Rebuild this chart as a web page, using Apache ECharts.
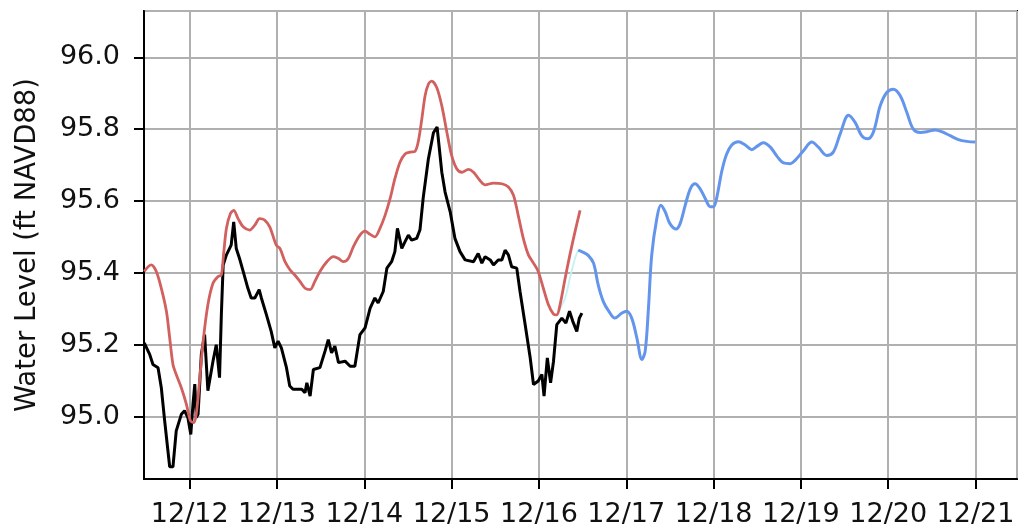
<!DOCTYPE html>
<html>
<head>
<meta charset="utf-8">
<script src="https://cdn.jsdelivr.net/npm/echarts@6/dist/echarts.min.js"></script>
<style>
  html, body { margin: 0; padding: 0; background: #fff; }
  #chart { width: 1018px; height: 528px; }
</style>
</head>
<body>
<div id="chart"></div>
<script>
// Hours are counted from midnight starting 12/12.
const blackHours = [-12.5,-11.0,-10.1,-8.7,-7.8,-6.9,-6.0,-5.5,-4.6,-3.7,-2.3,-1.4,-0.5,0.3,0.9,1.4,1.8,2.3,3.2,4.1,5.0,6.4,7.3,8.2,8.7,9.2,10.1,11.4,12.1,12.8,13.7,14.7,16.0,16.9,17.9,19.1,19.7,21.1,22.4,23.4,24.3,25.2,26.6,27.5,28.4,30.8,31.7,32.2,33.1,34.0,35.8,37.2,38.1,39.0,39.9,40.9,42.7,44.1,45.4,46.8,48.2,49.6,50.9,51.8,53.2,54.2,55.5,56.4,57.1,58.3,59.2,60.1,61.0,62.4,63.3,64.2,65.6,67.0,68.0,69.3,70.2,71.6,72.9,74.3,75.7,78.0,79.3,80.3,81.2,82.6,83.5,84.8,85.8,86.7,87.6,88.5,89.9,90.8,92.2,93.6,94.5,95.8,96.8,97.4,98.3,99.2,100.0,100.9,102.3,103.4,104.4,105.3,106.4,107.1,107.8];
const blackLevels = [95.205,95.173,95.145,95.136,95.08,94.99,94.906,94.86,94.86,94.96,95.006,95.016,94.997,94.95,95.034,95.09,94.997,95.006,95.173,95.228,95.072,95.154,95.2,95.108,95.283,95.422,95.45,95.477,95.542,95.468,95.44,95.404,95.357,95.33,95.33,95.353,95.33,95.283,95.237,95.191,95.21,95.191,95.136,95.085,95.076,95.076,95.066,95.094,95.057,95.131,95.136,95.182,95.214,95.177,95.196,95.15,95.154,95.14,95.14,95.228,95.247,95.302,95.33,95.316,95.348,95.413,95.431,95.459,95.524,95.468,95.487,95.505,95.491,95.496,95.52,95.61,95.717,95.79,95.806,95.68,95.625,95.57,95.496,95.459,95.436,95.431,95.454,95.427,95.445,95.436,95.422,95.436,95.436,95.463,95.45,95.417,95.413,95.348,95.256,95.163,95.089,95.099,95.117,95.057,95.163,95.094,95.154,95.256,95.274,95.26,95.293,95.265,95.237,95.274,95.288];

const redHours = [-12.5,-10.6,-9.2,-7.8,-6.4,-5.5,-4.6,-3.7,-2.3,-0.9,0.2,1.1,1.8,2.7,3.7,5.0,6.4,7.8,8.7,9.3,10.1,11.2,12.1,13.3,14.7,16.5,17.9,19.2,20.6,22.0,23.8,24.8,26.2,27.6,28.9,30.3,31.7,33.1,34.4,35.8,37.7,39.5,40.9,42.2,43.6,45.0,46.8,48.2,49.6,50.9,52.3,53.7,55.1,56.4,57.8,59.2,60.6,61.9,62.8,63.8,64.7,65.6,66.5,67.9,69.3,70.7,72.0,73.4,74.8,76.6,78.0,79.8,81.2,83.5,85.8,87.6,89.0,90.3,91.7,93.1,94.5,95.8,97.2,98.6,100.0,100.9,101.8,103.2,104.5,105.9,107.3];
const redLevels = [95.404,95.422,95.404,95.357,95.293,95.219,95.145,95.117,95.08,95.034,94.988,94.983,95.006,95.099,95.21,95.311,95.371,95.39,95.394,95.45,95.524,95.565,95.574,95.551,95.528,95.519,95.533,95.551,95.547,95.528,95.477,95.468,95.431,95.408,95.394,95.376,95.357,95.353,95.376,95.404,95.431,95.445,95.44,95.431,95.44,95.473,95.505,95.516,95.507,95.5,95.524,95.56,95.607,95.662,95.708,95.731,95.736,95.738,95.764,95.828,95.893,95.925,95.934,95.916,95.865,95.791,95.727,95.69,95.68,95.688,95.68,95.657,95.645,95.65,95.648,95.639,95.616,95.56,95.496,95.45,95.427,95.404,95.357,95.311,95.285,95.283,95.311,95.385,95.45,95.514,95.574];

const linkHours = [100.9,103.2,104.5,105.9,106.8];
const linkLevels = [95.283,95.33,95.385,95.44,95.463];

const blueHours = [106.8,108.2,109.6,111.0,112.3,113.7,115.1,116.9,118.8,120.1,121.5,122.9,124.3,125.2,126.1,127.0,128.4,129.5,130.7,132.0,133.7,134.8,136.2,137.6,138.9,140.3,141.7,143.1,144.0,144.9,146.3,147.6,149.0,150.8,152.7,154.5,155.9,157.7,159.6,161.4,163.2,165.1,166.4,168.7,171.0,172.8,175.1,176.9,178.8,181.1,182.9,184.7,186.3,187.9,189.8,191.6,193.4,195.3,197.1,198.9,200.8,202.6,204.9,206.7,209.0,211.3,213.6,215.9];
const blueLevels = [95.463,95.457,95.448,95.427,95.366,95.32,95.295,95.274,95.288,95.293,95.274,95.219,95.159,95.182,95.302,95.45,95.551,95.588,95.57,95.537,95.522,95.537,95.588,95.634,95.648,95.634,95.607,95.584,95.584,95.611,95.685,95.731,95.756,95.765,95.756,95.743,95.752,95.762,95.75,95.725,95.706,95.704,95.713,95.74,95.764,95.75,95.727,95.736,95.787,95.839,95.819,95.782,95.773,95.791,95.865,95.902,95.911,95.893,95.847,95.8,95.791,95.793,95.798,95.793,95.782,95.771,95.766,95.764];

const yMin = 94.826, yMax = 96.129;
const xStartHours = -12.56, xEndHours = 227.4;

const BASE = new Date(2023, 11, 12, 0, 0, 0).getTime();
const HOUR = 3600 * 1000;
const toPairs = (hours, levels) => hours.map((h, i) => [BASE + h * HOUR, levels[i]]);

const FONT = 'DejaVu Sans';
const TEXT = '#111111';
const chart = echarts.init(document.getElementById('chart'), null, { renderer: 'canvas' });

chart.setOption({
  animation: false,
  backgroundColor: '#ffffff',
  grid: {
    left: 144, right: 1, top: 11, bottom: 46,
    show: true, borderColor: '#000', borderWidth: 2, backgroundColor: 'transparent'
  },
  xAxis: {
    type: 'time',
    min: BASE + xStartHours * HOUR,
    max: BASE + xEndHours * HOUR,
    minInterval: 24 * HOUR,
    maxInterval: 24 * HOUR,
    axisLine: { show: true, lineStyle: { color: '#000', width: 2 } },
    axisTick: { show: true, length: 10, lineStyle: { color: '#000', width: 2 } },
    axisLabel: {
      formatter: '{MM}/{dd}',
      fontFamily: FONT, fontSize: 27, color: TEXT, margin: 22,
      showMinLabel: false, showMaxLabel: false, hideOverlap: false
    },
    splitLine: { show: true, lineStyle: { color: '#b0b0b0', width: 2 } }
  },
  yAxis: {
    type: 'value',
    min: yMin, max: yMax,
    splitNumber: 6,
    minInterval: 0.2, maxInterval: 0.2,
    name: 'Water Level (ft NAVD88)',
    nameLocation: 'middle',
    nameGap: 102,
    nameTextStyle: { fontFamily: FONT, fontSize: 27.5, color: TEXT },
    axisLine: { show: true, lineStyle: { color: '#000', width: 2 } },
    axisTick: { show: true, length: 10, lineStyle: { color: '#000', width: 2 } },
    axisLabel: {
      fontFamily: FONT, fontSize: 27, color: TEXT, margin: 24,
      showMinLabel: false, showMaxLabel: false,
      formatter: v => v.toFixed(1)
    },
    splitLine: { show: true, lineStyle: { color: '#b0b0b0', width: 2 } }
  },
  series: [
    {
      name: 'observed', type: 'line', data: toPairs(blackHours, blackLevels),
      showSymbol: false, symbol: 'none',
      lineStyle: { color: '#000000', width: 3 }, z: 3
    },
    {
      name: 'simulated', type: 'line', data: toPairs(redHours, redLevels),
      showSymbol: false, symbol: 'none', smooth: 0.3,
      lineStyle: { color: '#d1605e', width: 2.8 }, z: 4
    },
    {
      name: 'link', type: 'line', data: toPairs(linkHours, linkLevels),
      showSymbol: false, symbol: 'none', smooth: 0.3,
      lineStyle: { color: '#c6f1f1', width: 1.8 }, z: 2
    },
    {
      name: 'forecast', type: 'line', data: toPairs(blueHours, blueLevels),
      showSymbol: false, symbol: 'none', smooth: 0.35,
      lineStyle: { color: '#6495ed', width: 3 }, z: 5
    }
  ]
});
</script>
</body>
</html>
